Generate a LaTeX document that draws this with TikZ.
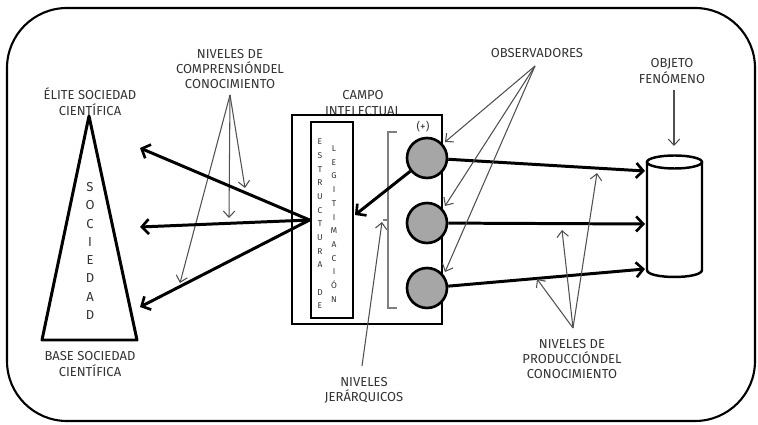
\documentclass[tikz,border=0pt]{standalone}
\usepackage{fontspec}
\setmainfont{Fira Sans}
\usetikzlibrary{arrows.meta}
\definecolor{txt}{HTML}{333333}
\definecolor{thinc}{HTML}{505050}
\definecolor{circ}{HTML}{A6A6A6}
\definecolor{brk}{HTML}{808080}
\begin{document}
\begin{tikzpicture}[x=0.02cm,y=-0.02cm,
  lbl/.style={font=\fontsize{7.4}{9.2}\selectfont, text=txt, align=center, inner sep=0pt},
  thickar/.style={line width=1.7pt, -{Straight Barb[length=4pt,width=8.5pt,line width=1.5pt]}},
  thinar/.style={line width=0.6pt, draw=thinc, -{Straight Barb[length=3.5pt,width=6.5pt]}},
  obsc/.style={circle, draw, line width=1.5pt, fill=circ, minimum size=0.8cm, inner sep=0pt},
]
\useasboundingbox (0,0) rectangle (758,425);
% frame
\draw[line width=1.2pt, rounded corners=1.2cm] (7,8) rectangle (755,421);

% society triangle
\draw[line width=1.7pt, line join=round] (89,116) -- (137,340) -- (42,340) -- cycle;
\node[font=\fontsize{7.4}{10.4}\selectfont, text=txt, align=center, inner sep=0pt] (soc) at (90,251) {S\\O\\C\\I\\E\\D\\A\\D};
\node[lbl] (elite) at (90,102) {ÉLITE SOCIEDAD\\CIENTÍFICA};
\node[lbl] (base) at (90,364) {BASE SOCIEDAD\\CIENTÍFICA};

% comprehension label
\node[lbl, font=\fontsize{7.4}{8.6}\selectfont] (comp) at (230,69) {NIVELES DE\\COMPRENSIÓNDEL\\CONOCIMIENTO};
\coordinate (compA) at (230,95);
\coordinate (k1) at (245,188);
\coordinate (k2) at (229,218);
\coordinate (k3) at (180,283);
\draw[thinar] (compA) -- (k1);
\draw[thinar] (compA) -- (k2);
\draw[thinar] (compA) -- (k3);

% campo intelectual
\node[lbl, font=\fontsize{7.4}{8.6}\selectfont] (campo) at (363,103) {CAMPO\\INTELECTUAL};
\node[draw, line width=1.3pt, minimum width=3cm, minimum height=4.18cm, inner sep=0pt] (campobox) at (367,219.5) {};
\node[draw, line width=1.6pt, minimum width=0.84cm, minimum height=3.92cm, inner sep=0pt] (est) at (332,220) {};
\node[font=\fontsize{4.8}{7.77}\selectfont, text=txt, align=center, inner sep=0pt] (col1) at (320,224) {E\\S\\T\\R\\U\\C\\T\\U\\R\\A\\\mbox{}\\D\\E};
\node[font=\fontsize{4.8}{7.8}\selectfont, text=txt, align=center, inner sep=0pt] (col2) at (334,224) {L\\E\\G\\I\\T\\I\\M\\A\\C\\I\\Ó\\N};

% bracket
\draw[brk, line width=0.8pt] (397,132) -- (388,132) -- (388,308) -- (397,308);
\draw[brk, line width=0.8pt] (388,220) -- (383,220);
\node[font=\fontsize{6.3}{7}\selectfont, text=txt, inner sep=0pt] (plus) at (423,127) {(+)};

% observer circles
\node[obsc] (c1) at (427,158) {};
\node[obsc] (c2) at (427,223) {};
\node[obsc] (c3) at (427,288) {};

% arrows to society
\coordinate (t1) at (140,148);
\coordinate (t2) at (140,227);
\coordinate (t3) at (140,307);
\draw[thickar] (est.west) -- (t1);
\draw[thickar] (est.west) -- (t2);
\draw[thickar] (est.west) -- (t3);
\coordinate (sIn) at (355,215);
\draw[thickar] (c1) -- (sIn);

% object cylinder
\draw[line width=1.4pt] (647,162) -- (647,270) .. controls (647,279.3) and (702,279.3) .. (702,270) -- (702,162);
\draw[line width=1.4pt] (674.5,162) ellipse [x radius=27.5, y radius=6.5];
\coordinate (o1) at (645,171);
\coordinate (o2) at (645,224);
\coordinate (o3) at (645,269);
\draw[thickar] (c1) -- (o1);
\draw[thickar] (c2) -- (o2);
\draw[thickar] (c3) -- (o3);

\node[lbl, font=\fontsize{7.4}{9.6}\selectfont] (objeto) at (672,71) {OBJETO\\FENÓMENO};
\coordinate (objA) at (674,90);
\coordinate (objB) at (674,146);
\draw[thinar] (objA) -- (objB);

% observers
\node[lbl] (obs) at (537,53) {OBSERVADORES};
\coordinate (obsA) at (535,66);
\coordinate (b1) at (445,142);
\coordinate (b2) at (445,206);
\coordinate (b3) at (445,272);
\draw[thinar] (obsA) -- (b1);
\draw[thinar] (obsA) -- (b2);
\draw[thinar] (obsA) -- (b3);

% production levels
\node[lbl, font=\fontsize{7.4}{8.8}\selectfont] (prod) at (572,359) {NIVELES DE\\PRODUCCIÓNDEL\\CONOCIMIENTO};
\coordinate (prodA) at (573,328);
\coordinate (p1) at (597,173);
\coordinate (p2) at (562,230);
\coordinate (p3) at (537,279);
\draw[thinar] (prodA) -- (p1);
\draw[thinar] (prodA) -- (p2);
\draw[thinar] (prodA) -- (p3);

% hierarchical levels
\node[lbl, font=\fontsize{7.4}{8.6}\selectfont] (jer) at (364,390) {NIVELES\\JERÁRQUICOS};
\coordinate (jerA) at (362,366);
\coordinate (jerB) at (382,222);
\draw[thinar] (jerA) -- (jerB);
\end{tikzpicture}
\end{document}
